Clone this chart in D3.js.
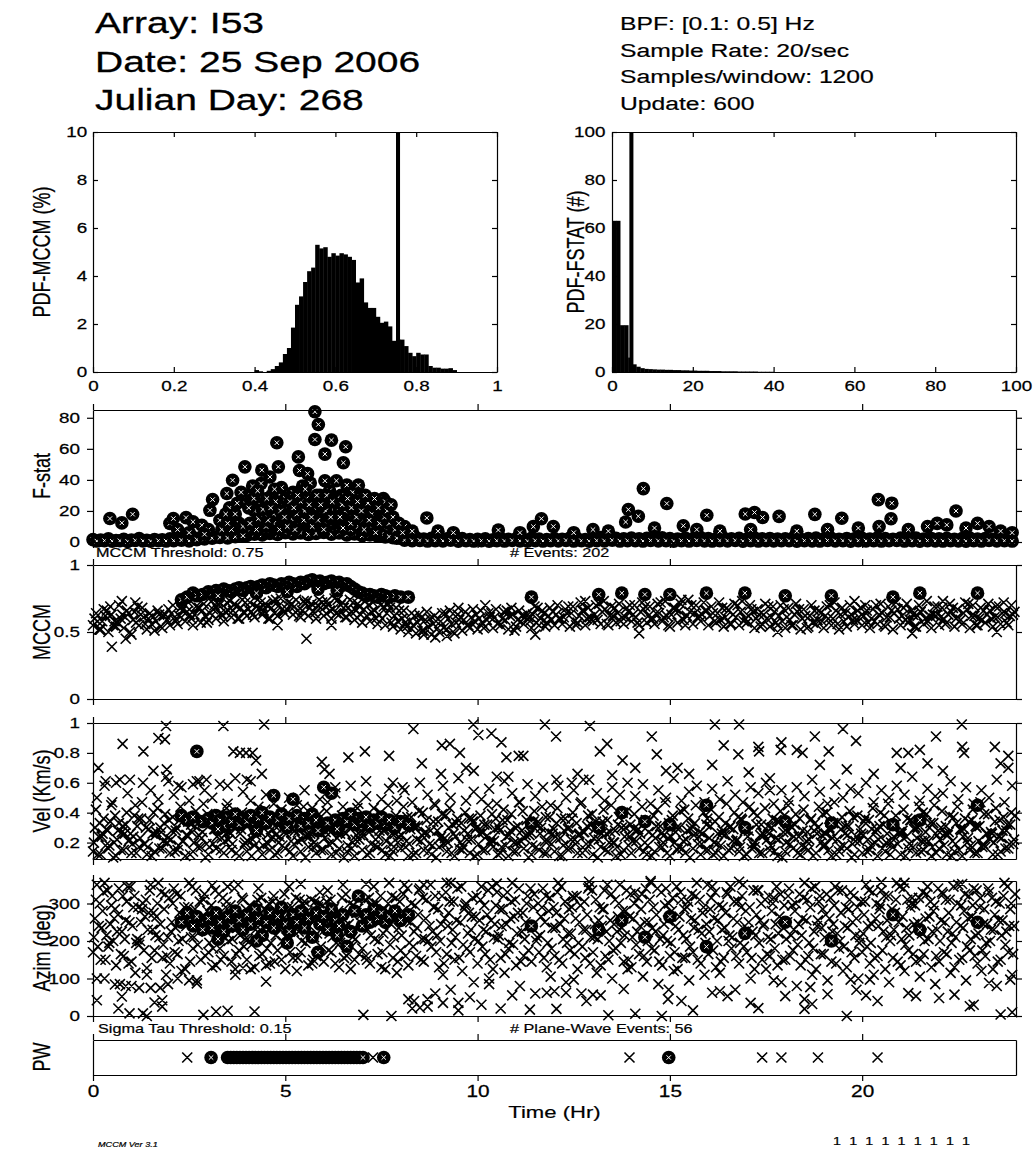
<!DOCTYPE html>
<html><head><meta charset="utf-8">
<script src="https://cdn.jsdelivr.net/npm/d3@7"></script>
<style>body{margin:0;background:#fff}svg{display:block}</style>
</head><body>
<svg id="chart" width="1034" height="1156"></svg>
<script>
// ---------------- DATA ----------------
const headerLeft = ["Array: I53", "Date: 25 Sep 2006", "Julian Day: 268"];
const headerRight = ["BPF: [0.1: 0.5] Hz", "Sample Rate: 20/sec", "Samples/window: 1200", "Update: 600"];

// MCCM histogram: bins of 0.01 starting at 0.40 (percent)
const mccmBinStart = 0.40, mccmBinWidth = 0.01;
const mccmPdf = [0.08,0.03,0.0,0.05,0.12,0.25,0.4,0.75,1.0,1.85,
  2.8,3.15,3.75,4.2,4.35,5.3,5.15,5.2,4.8,4.95,
  4.85,4.95,4.9,4.8,4.67,3.73,3.9,2.9,2.67,2.67,
  2.3,2.05,2.1,1.9,1.3,1.35,1.35,1.08,0.8,0.66,
  0.8,0.73,0.73,0.25,0.18,0.18,0.14,0.14,0.16,0.08];
const mccmThreshold = 0.75;
const mccmHistTicks = [0,0.2,0.4,0.6,0.8,1];
const mccmHistYTicks = [0,2,4,6,8,10];

// F-stat histogram: bins of width 1 from 0
const fPdf = [63,63,19.5,19.5,6,3.2,2.2,1.6,1.3,1.2,
  1.1,1.0,1.0,0.9,0.9,0.8,0.8,0.7,0.7,0.6,
  0.6,0.5,0.5,0.5,0.4,0.4,0.4,0.3,0.3,0.3,
  0.3,0.2,0.2,0.2,0.2,0.2,0.1,0.1,0.1,0.1];
const fThreshold = 4.3;
const fHistTicks = [0,20,40,60,80,100];

const timeTicks = [0,5,10,15,20];
const fTicks = [0,20,40,60,80];
const mccmTicks = [0,0.5,1];
const velTicks = [0.2,0.4,0.6,0.8,1];
const azTicks = [0,100,200,300];

const STEP = 0.2;
const fBase1 = [1.5,1.2,2.0,1.0,1.8,1.3,2.2,1.1,1.6,1.4,
  2.0,2.5,1.8,3.0,2.8,3.5,3.2,4.0,3.6,4.5,
  4.2,5.0,4.6,5.5,4.8,6.0,5.2,5.8,4.9,5.5,
  6.2,5.0,5.8,4.6,5.2,4.0,4.5,3.8,3.2,2.8,
  2.5,2.2,2.8,1.9,2.4,1.6,2.0,1.8,2.2,1.5,
  1.8,2.0,1.4,2.3,1.7,2.1,1.5,2.4,1.9,1.6,
  2.2,1.8,2.5,2.0,1.6,2.3,2.8,1.9,2.4,2.1,
  2.6,2.0,2.4,1.8,2.7,2.2,1.9,2.5,2.1,2.8,
  2.3,1.9,2.6,2.1,2.4,1.8,2.7,2.0,2.3,1.9,
  2.1,2.5,1.7,2.2,2.6,1.9,2.4,1.8,2.3,2.0,
  2.4,1.9,2.7,2.2,1.8,2.5,2.0,2.6,1.9,2.3,
  2.0,2.4,1.7,2.2,2.6,1.9,2.3,1.8,2.5,2.1];
const fBase2 = [.6,.9,.5,.8,.4,1.0,.7,.5,.9,.6,
  .8,1.2,.7,1.5,2.0,2.4,3.0,2.6,3.4,4.0,
  8.5,10,7.2,12,9.5,14,11,13.5,10.5,12.5,
  11,9.0,12,8.0,10,7.5,6.0,5.0,3.5,2.5,
  1.2,.8,1.0,.6,.9,.7,1.1,.5,.8,.6,
  .9,.5,.8,.6,1.0,.7,.5,.9,.6,.8,
  .7,1.0,.6,.8,.5,.9,.7,1.1,.6,.8,
  .9,.6,1.0,.7,.8,.5,.9,.6,1.0,.7,
  .6,.9,.7,1.0,.5,.8,.6,.9,.7,.8,
  .8,.5,.9,.7,.6,1.0,.7,.8,.5,.9,
  .7,.9,.6,.8,1.0,.6,.8,.5,.9,.7,
  .6,.8,.7,.5,.9,.6,1.0,.7,.8,.6];
const fHigh = [[0.44,15.1],[0.75,12.3],[1.03,17.9],[2.0,12],[2.09,15.1],[2.42,15.7],[2.6,13],[2.83,10.8],
  [3.04,20.4],[3.11,27.3],[3.3,14],[3.48,31.2],[3.55,22],[3.63,39.8],[3.7,18],[3.8,12],[3.95,48.4],[4.0,30],
  [4.1,27],[4.15,36],[4.2,20],[4.3,15],[4.37,37.7],[4.39,46.3],[4.45,25],[4.5,10],[4.6,41.9],[4.65,30],
  [4.7,18],[4.78,63.9],[4.82,48.4],[4.9,35],[4.95,12],[5.0,28],[5.08,23],[5.15,15],[5.2,32],[5.25,8],
  [5.34,54.8],[5.37,46],[5.45,36],[5.5,20],[5.55,28],[5.6,12],[5.65,38],[5.77,83.9],[5.77,66],[5.86,75.7],
  [5.9,30],[5.95,18],[6.03,56.6],[6.03,39.4],[6.1,25],[6.15,33],[6.2,65.6],[6.25,12],[6.33,39.4],[6.4,22],
  [6.45,30],[6.51,51],[6.57,61.3],[6.6,36.6],[6.65,18],[6.75,32],[6.8,24],[6.9,36.6],[6.95,29],[7.0,14],
  [7.1,20],[7.2,10],[7.3,23],[7.4,16],[7.55,28],[7.6,26],[7.7,12],[7.85,8],[8.1,10],[8.3,7],
  [3.6,8],[3.9,10],[4.05,22],[4.25,8],[4.35,24],[4.55,14],[4.75,26],[4.85,8],[5.05,10],[5.3,18],
  [5.4,26],[5.7,10],[5.75,22],[5.85,14],[6.0,8],[6.05,20],[6.3,14],[6.35,28],[6.5,9],[6.55,20],
  [6.7,12],[6.85,16],[7.05,8],[7.15,25],[7.25,18],[7.35,6],[7.45,12],[7.5,20],[4.45,18],[5.58,44],
  [3.45,18],[3.75,25],[3.85,32],[4.08,12],[4.18,28],[4.28,33],[4.42,21],[4.52,28],[4.62,22],[4.72,34],
  [4.88,20],[4.98,16],[5.12,26],[5.22,22],[5.32,30],[5.48,14],[5.52,34],[5.62,24],[5.68,16],[5.82,30],
  [5.92,24],[6.08,30],[6.18,16],[6.22,26],[6.42,16],[6.48,24],[6.62,28],[6.72,22],[6.88,26],[6.98,20],
  [7.08,30],[7.18,14],[7.32,28],[7.42,22],[7.58,16],[7.65,20],[7.75,24],[7.8,16],[7.95,12],[8.05,6],
  [3.35,8],[3.5,12],[3.0,8],[2.9,5],[2.5,6],[2.2,8],
  [8.68,15.5],[8.97,7],[9.37,6],[10.54,7.7],[11.1,6],[11.45,9.9],[11.66,15],[11.97,10],
  [12.5,6],[13.0,8],[13.4,7],[13.85,12.9],[13.92,20.9],[14.18,16.6],[14.31,34.4],[14.6,9],[14.92,24.8],
  [15.35,10.5],[15.7,8],[15.96,17.2],[16.3,7],[16.96,18],[17.1,8],[17.2,19],[17.41,15.8],[17.84,16.5],
  [18.3,7],[18.77,17.8],[19.1,8],[19.47,15.3],[19.9,9],[20.42,27.3],[20.44,10],[20.75,15],[20.77,25],
  [21.2,8],[21.7,10],[21.95,12],[22.2,11],[22.44,20],[22.7,9],[23.0,12],[23.3,10],[23.6,7],[23.9,6]];

const mccm1 = [.55,.52,.50,.54,.53,.48,.55,.52,.51,.53,
  .55,.56,.58,.55,.57,.59,.60,.58,.61,.60,
  .62,.61,.63,.60,.62,.64,.63,.61,.62,.60,
  .62,.60,.63,.61,.59,.57,.58,.56,.55,.54,
  .52,.50,.49,.51,.48,.50,.52,.49,.51,.53,
  .52,.54,.53,.55,.52,.54,.56,.53,.55,.57,
  .55,.56,.54,.57,.55,.58,.56,.55,.57,.56,
  .58,.55,.57,.56,.58,.54,.57,.55,.56,.58,
  .55,.57,.54,.56,.55,.57,.53,.56,.54,.55,
  .53,.55,.52,.54,.56,.53,.55,.52,.54,.56,
  .55,.53,.56,.54,.52,.55,.57,.54,.56,.53,
  .55,.57,.54,.56,.53,.55,.57,.54,.56,.55];
const mccm2 = [.60,.58,.62,.57,.61,.59,.63,.60,.58,.62,
  .64,.62,.65,.63,.66,.64,.67,.65,.66,.68,
  .67,.69,.66,.68,.70,.67,.69,.66,.68,.70,
  .69,.67,.70,.68,.66,.67,.65,.63,.64,.62,
  .60,.58,.57,.59,.56,.58,.60,.57,.59,.61,
  .60,.59,.61,.60,.62,.59,.61,.63,.60,.62,
  .63,.61,.64,.62,.60,.63,.65,.62,.64,.61,
  .63,.65,.62,.64,.61,.63,.66,.62,.64,.63,
  .62,.64,.61,.63,.65,.62,.60,.63,.61,.62,
  .61,.63,.60,.62,.59,.62,.60,.63,.61,.59,
  .62,.60,.63,.61,.64,.62,.59,.62,.60,.63,
  .61,.63,.60,.64,.62,.60,.63,.61,.64,.62];
const mccm3 = [.64,.67,.63,.70,.66,.65,.68,.64,.66,.63,
  .70,.68,.72,.69,.71,.73,.70,.72,.71,.74,
  .72,.74,.71,.73,.75,.72,.74,.73,.71,.74,
  .73,.75,.72,.74,.71,.73,.72,.70,.71,.68,
  .66,.64,.63,.65,.62,.64,.66,.63,.65,.67,
  .66,.64,.67,.65,.68,.66,.64,.69,.66,.68,
  .70,.67,.69,.72,.68,.70,.73,.69,.71,.68,
  .70,.72,.69,.71,.73,.68,.71,.74,.70,.72,
  .69,.72,.68,.71,.73,.70,.67,.71,.69,.70,
  .68,.71,.67,.70,.66,.69,.72,.68,.70,.66,
  .70,.67,.71,.69,.72,.68,.66,.70,.73,.69,
  .68,.71,.67,.72,.70,.68,.71,.69,.72,.70];
const mccm4 = [.58,.62,.55,.60,.64,.57,.61,.56,.63,.59,
  .61,.66,.63,.68,.62,.67,.64,.66,.69,.65,
  .65,.68,.70,.64,.67,.69,.66,.71,.65,.68,
  .70,.64,.68,.65,.69,.62,.66,.60,.68,.58,
  .57,.55,.60,.54,.58,.53,.56,.59,.55,.58,
  .57,.61,.56,.59,.63,.58,.61,.57,.64,.59,
  .60,.64,.58,.66,.61,.59,.67,.62,.58,.65,
  .61,.67,.59,.64,.62,.68,.60,.65,.61,.66,
  .64,.59,.66,.61,.58,.67,.63,.60,.65,.58,
  .59,.65,.62,.57,.64,.60,.66,.58,.63,.61,
  .66,.58,.64,.61,.67,.59,.63,.65,.58,.62,
  .60,.65,.58,.67,.62,.59,.66,.61,.64,.63];
const mccm5 = [.52,.66,.58,.63,.50,.69,.56,.61,.54,.67,
  .58,.71,.60,.68,.57,.70,.62,.73,.60,.72,
  .63,.72,.60,.74,.65,.71,.62,.73,.64,.72,
  .66,.74,.61,.72,.63,.70,.60,.69,.57,.66,
  .54,.62,.51,.60,.53,.64,.50,.61,.55,.63,
  .53,.64,.57,.66,.51,.62,.58,.68,.54,.65,
  .60,.69,.55,.66,.59,.71,.56,.68,.61,.70,
  .57,.69,.60,.72,.55,.67,.59,.70,.62,.66,
  .58,.68,.56,.70,.60,.65,.54,.69,.57,.67,
  .55,.67,.53,.66,.58,.70,.56,.64,.59,.68,
  .57,.70,.55,.66,.60,.71,.54,.67,.62,.69,
  .56,.68,.59,.71,.55,.66,.60,.69,.57,.65];
const mccmOut = [[0.49,.39],[0.45,.69],[0.75,.73],[0.85,.45],[5.55,.45],[1.1,.72],[8.9,.46],[9.2,.47],
  [8.6,.48],[3.3,.72],[2.3,.73],[9.5,.68],[10.2,.70],[12.8,.73],[15.3,.74],[19.8,.73],[22.1,.73],
  [17.8,.50],[21.3,.49],[14.2,.49],[11.5,.48],[23.5,.50],[6.2,.55],[4.8,.55]];

const vel1 = [.14,.12,.16,.11,.15,.13,.17,.12,.14,.16,
  .13,.15,.11,.14,.17,.12,.16,.13,.15,.11,
  .14,.18,.12,.15,.13,.16,.11,.14,.17,.13,
  .15,.12,.16,.14,.11,.15,.13,.17,.12,.14,
  .16,.11,.13,.15,.12,.17,.14,.11,.15,.13,
  .12,.15,.17,.13,.11,.14,.16,.12,.15,.13,
  .14,.11,.16,.13,.15,.12,.17,.14,.11,.15,
  .13,.16,.12,.14,.17,.11,.15,.13,.16,.12,
  .15,.13,.11,.16,.14,.12,.17,.13,.15,.11,
  .14,.16,.12,.15,.13,.17,.11,.14,.16,.12,
  .13,.15,.11,.14,.17,.12,.16,.13,.15,.11,
  .16,.12,.14,.11,.15,.13,.17,.12,.14,.16];
const vel2 = [.20,.24,.18,.22,.26,.19,.23,.17,.25,.21,
  .22,.18,.25,.20,.23,.17,.24,.21,.19,.26,
  .21,.25,.18,.23,.20,.26,.19,.22,.24,.18,
  .23,.20,.26,.18,.22,.25,.19,.24,.21,.17,
  .25,.19,.22,.26,.18,.23,.20,.24,.17,.22,
  .19,.24,.21,.17,.25,.20,.23,.18,.26,.21,
  .24,.18,.22,.25,.19,.23,.26,.20,.17,.24,
  .21,.26,.18,.23,.20,.24,.17,.22,.25,.19,
  .23,.19,.25,.21,.17,.24,.20,.26,.18,.22,
  .20,.24,.18,.22,.26,.19,.23,.17,.25,.21,
  .25,.18,.22,.20,.24,.26,.19,.23,.21,.17,
  .22,.25,.19,.24,.18,.21,.26,.20,.23,.19];
const vel3 = [.30,.26,.34,.28,.32,.24,.36,.29,.27,.33,
  .28,.35,.25,.31,.27,.34,.30,.26,.33,.29,
  .32,.27,.35,.29,.24,.31,.28,.34,.26,.30,
  .27,.33,.29,.36,.25,.30,.34,.28,.32,.26,
  .35,.29,.31,.27,.34,.24,.30,.33,.28,.36,
  .26,.32,.29,.35,.28,.31,.25,.34,.30,.27,
  .33,.28,.36,.26,.31,.29,.34,.27,.32,.30,
  .29,.34,.27,.31,.25,.35,.30,.28,.33,.26,
  .31,.26,.33,.29,.36,.28,.32,.25,.30,.34,
  .27,.32,.28,.35,.30,.26,.33,.29,.31,.24,
  .34,.29,.31,.26,.32,.28,.35,.30,.27,.33,
  .30,.27,.33,.29,.35,.31,.26,.34,.28,.32];
const vel4 = [.42,.36,.45,.33,.40,.38,.47,.35,.43,.39,
  .37,.44,.34,.41,.46,.36,.39,.43,.35,.40,
  .38,.35,.42,.37,.33,.40,.36,.44,.34,.39,
  .41,.36,.38,.34,.43,.37,.35,.40,.45,.38,
  .44,.37,.41,.35,.46,.39,.43,.36,.40,.34,
  .38,.45,.36,.42,.39,.47,.35,.41,.44,.37,
  .43,.36,.40,.46,.38,.34,.42,.45,.37,.41,
  .39,.44,.35,.42,.47,.38,.41,.36,.45,.40,
  .42,.37,.46,.40,.35,.44,.38,.43,.36,.41,
  .45,.39,.42,.36,.44,.40,.47,.37,.41,.38,
  .36,.43,.40,.46,.38,.42,.35,.44,.39,.45,
  .41,.38,.44,.36,.42,.47,.39,.43,.37,.40];
const vel5 = [.50,.58,.47,.62,.53,.45,.60,.55,.49,.64,
  .52,.57,.48,.61,.55,.50,.59,.46,.63,.54,
  .48,.44,.52,.46,.42,.50,.45,.55,.43,.49,
  .47,.53,.44,.58,.46,.51,.43,.49,.56,.48,
  .55,.47,.60,.52,.45,.58,.50,.63,.48,.54,
  .49,.56,.46,.61,.53,.47,.59,.51,.57,.45,
  .58,.50,.55,.47,.62,.53,.48,.57,.52,.60,
  .51,.59,.46,.55,.50,.63,.48,.54,.58,.47,
  .56,.49,.61,.52,.47,.57,.53,.60,.46,.55,
  .48,.57,.51,.62,.54,.46,.59,.50,.56,.53,
  .60,.47,.55,.50,.58,.52,.64,.48,.56,.51,
  .53,.61,.49,.57,.46,.55,.50,.62,.47,.58];
const vel6 = [.12,.18,.10,.15,.21,.13,.19,.11,.16,.20,
  .14,.21,.12,.17,.10,.19,.15,.22,.13,.18,
  .11,.16,.20,.12,.18,.14,.21,.10,.17,.15,
  .19,.13,.10,.16,.22,.12,.18,.15,.11,.20,
  .17,.12,.21,.14,.10,.19,.13,.16,.22,.11,
  .15,.20,.12,.18,.14,.21,.10,.17,.13,.19,
  .11,.16,.22,.13,.19,.10,.15,.20,.12,.18,
  .21,.14,.11,.17,.13,.20,.16,.10,.19,.15,
  .12,.18,.15,.21,.11,.16,.13,.22,.14,.10,
  .19,.13,.17,.11,.20,.15,.12,.18,.10,.21,
  .14,.20,.16,.12,.19,.11,.17,.14,.21,.13,
  .18,.11,.15,.20,.13,.17,.22,.12,.16,.19];
const vel7 = [.24,.29,.20,.27,.22,.31,.19,.26,.30,.23,
  .28,.21,.32,.25,.19,.29,.23,.27,.31,.20,
  .22,.27,.19,.25,.30,.21,.28,.24,.20,.26,
  .29,.23,.27,.20,.25,.31,.22,.28,.19,.24,
  .21,.30,.25,.19,.28,.23,.32,.20,.26,.29,
  .27,.22,.30,.24,.20,.28,.25,.31,.21,.26,
  .23,.29,.19,.27,.32,.22,.26,.20,.30,.24,
  .28,.20,.25,.31,.23,.27,.21,.29,.24,.32,
  .20,.26,.30,.22,.28,.19,.25,.31,.23,.27,
  .31,.24,.21,.28,.25,.30,.22,.26,.19,.29,
  .22,.27,.32,.20,.26,.24,.29,.21,.30,.25,
  .26,.21,.29,.23,.31,.19,.27,.24,.28,.22];
const vel8 = [.33,.28,.38,.31,.26,.36,.30,.40,.27,.35,
  .30,.37,.27,.34,.39,.29,.32,.26,.38,.33,
  .28,.32,.26,.30,.27,.29,.31,.26,.28,.30,
  .27,.29,.26,.31,.28,.27,.30,.29,.26,.35,
  .37,.31,.40,.28,.34,.38,.26,.33,.36,.30,
  .32,.39,.28,.35,.30,.41,.27,.34,.37,.29,
  .36,.30,.33,.27,.39,.31,.35,.28,.40,.32,
  .29,.35,.38,.26,.33,.30,.42,.31,.27,.36,
  .34,.28,.31,.37,.29,.40,.32,.26,.35,.38,
  .30,.36,.27,.33,.39,.28,.34,.31,.37,.26,
  .35,.29,.38,.32,.27,.36,.30,.40,.33,.28,
  .31,.37,.28,.34,.30,.39,.26,.35,.32,.38];
const velOut = [[0.14,.70],[0.33,.61],[0.6,.60],[0.77,.86],[0.96,.62],[1.31,.81],[1.57,.68],[1.7,.90],
  [1.87,.89],[1.9,.98],[1.92,.69],[1.96,.61],[2.22,.58],[2.6,.59],[2.77,.61],[2.95,.62],[3.39,.98],[3.5,.58],
  [3.65,.81],[3.82,.80],[3.98,.80],[4.15,.80],[4.24,.75],[4.39,.66],[4.45,.99],[4.0,.62],[4.1,.61],[5.95,.74],
  [6.02,.69],[6.15,.66],[6.64,.77],[6.3,.57],[7.07,.81],[7.1,.61],[7.7,.78],[7.8,.60],[8.05,.57],[8.33,.96],
  [8.55,.73],[9.07,.85],[9.28,.86],[9.05,.66],[9.54,.80],[9.7,.70],[9.9,.68],[9.89,.99],[10.02,.92],[10.36,.93],
  [10.62,.87],[10.75,.77],[11.07,.78],[10.5,.64],[10.8,.64],[11.19,.78],[11.75,.99],[12.04,.91],[12.92,.98],
  [13.18,.81],[13.37,.86],[13.77,.75],[12.05,.62],[12.6,.66],[12.75,.62],[12.45,.60],[14.53,.91],[14.66,.79],
  [16.17,.99],[16.8,.99],[16.4,.85],[16.78,.79],[17.3,.84],[17.32,.81],[17.9,.87],[17.88,.82],[18.3,.82],
  [18.45,.80],[18.77,.91],[19.13,.81],[19.5,.96],[19.84,.88],[20.9,.80],[21.2,.80],[21.5,.82],[21.92,.91],
  [22.59,.99],[22.6,.84],[22.65,.80],[23.45,.84],[23.8,.78],[23.6,.73],[23.8,.70],[17.05,.67],[17.6,.63],
  [17.6,.55],[15.2,.70],[15.5,.66],[18.9,.72],[19.6,.69],[20.3,.66],[21.0,.70],[21.7,.73],[22.1,.68],
  [14.1,.70],[13.5,.65],[14.9,.68],[16.1,.72]];

const az1 = [170,150,185,135,160,145,190,128,175,155,
  140,165,125,180,150,170,135,160,145,175,
  150,130,165,140,175,125,155,170,135,160,
  145,170,130,160,150,180,140,165,125,155,
  175,135,160,145,185,130,165,150,120,170,
  140,165,125,155,180,135,160,145,170,130,
  160,140,175,125,155,170,135,150,180,145,
  130,165,145,175,135,160,125,155,170,140,
  165,130,155,180,140,170,125,150,160,135,
  150,175,135,160,125,165,145,180,130,155,
  170,140,160,125,155,135,175,145,165,130,
  145,165,130,155,175,140,160,125,150,170];
const az2 = [210,235,195,225,205,240,200,230,215,190,
  225,200,240,210,230,195,220,235,205,215,
  205,230,215,195,235,210,225,200,240,220,
  230,210,195,225,205,240,215,200,230,210,
  215,195,235,205,225,200,240,210,190,230,
  200,225,210,240,195,220,205,235,215,195,
  235,205,220,195,230,210,240,200,225,215,
  210,240,200,225,215,195,230,205,235,220,
  225,200,235,210,195,230,215,240,205,220,
  205,230,215,195,240,210,225,200,235,215,
  220,195,240,210,230,205,215,235,200,225,
  200,225,210,235,205,220,195,230,215,240];
const az3 = [260,280,245,270,255,290,250,275,265,285,
  250,275,260,285,245,270,255,290,265,240,
  270,255,285,245,265,280,250,275,260,290,
  255,285,265,245,275,260,290,250,270,280,
  280,250,270,260,290,245,275,255,285,265,
  255,270,245,285,260,275,250,290,265,280,
  275,260,290,250,270,245,285,255,265,280,
  260,285,250,270,245,280,265,290,255,275,
  285,255,275,260,290,250,270,245,280,265,
  250,280,260,290,255,270,245,275,285,260,
  270,245,285,255,275,265,290,250,260,280,
  255,275,250,280,265,290,245,270,255,285];
const az4 = [310,330,295,340,305,320,285,335,300,325,
  300,320,290,335,310,295,325,305,340,315,
  295,310,285,305,300,290,315,295,310,300,
  305,290,315,300,285,310,295,320,300,315,
  325,300,335,310,290,320,305,340,295,315,
  310,335,295,320,305,340,300,325,290,315,
  330,305,320,295,340,310,285,325,300,335,
  300,325,310,340,295,315,330,305,320,290,
  315,295,330,305,320,290,335,310,300,325,
  320,300,315,340,305,325,295,335,310,290,
  305,330,295,320,310,340,300,315,325,295,
  330,310,300,325,295,315,340,305,320,300];
const az5 = [350,100,320,85,345,115,300,75,355,110,
  340,120,355,95,325,130,180,345,110,310,
  125,340,135,320,150,345,120,305,140,330,
  335,140,350,125,310,160,345,130,355,115,
  350,20,340,45,320,110,355,35,300,90,
  345,100,330,115,355,80,320,60,340,105,
  355,90,315,60,345,115,335,100,350,125,
  330,105,360,85,340,120,310,95,355,110,
  345,115,325,70,350,100,335,125,315,90,
  340,80,355,110,320,95,345,120,330,100,
  350,110,335,90,355,120,315,105,345,85,
  325,115,350,95,340,120,330,80,355,110];
const az6 = [185,150,200,165,140,195,175,155,210,160,
  170,205,145,190,160,180,150,200,165,185,
  190,160,180,145,200,170,155,195,150,185,
  175,195,155,185,165,150,205,170,190,145,
  160,185,150,200,170,140,195,155,180,205,
  185,150,205,165,190,145,175,200,155,180,
  150,195,165,185,140,205,160,175,195,150,
  190,160,180,145,200,170,155,185,150,195,
  175,145,200,160,185,155,195,165,180,150,
  160,190,150,180,165,200,140,185,170,195,
  185,155,175,200,145,190,165,150,205,160,
  170,195,150,185,160,175,200,145,190,165];
const az7 = [240,215,260,225,250,205,265,230,245,210,
  235,255,210,245,225,265,215,250,235,205,
  250,230,245,215,260,235,225,255,210,245,
  220,260,240,210,250,230,265,220,245,235,
  255,225,205,240,215,260,230,250,220,265,
  230,255,215,245,265,225,240,210,250,235,
  245,220,260,230,210,255,225,245,235,265,
  225,250,235,205,255,240,215,260,230,245,
  260,230,215,250,240,225,255,210,245,235,
  215,245,255,225,235,260,220,240,250,210,
  240,260,225,215,250,235,245,220,265,230,
  250,220,240,260,215,245,230,255,225,240];
const az8 = [300,335,285,320,345,290,310,275,330,315,
  325,290,345,305,280,335,315,295,350,285,
  285,315,300,275,325,290,310,280,305,295,
  310,280,325,295,270,315,300,285,320,305,
  340,295,315,350,285,330,305,345,275,320,
  295,345,285,330,310,275,340,300,320,290,
  345,285,320,305,335,290,350,310,280,325,
  315,340,290,330,300,345,285,325,310,350,
  330,290,345,305,280,335,300,320,345,295,
  295,325,310,345,285,315,335,290,320,305,
  335,300,320,285,345,310,295,330,305,340,
  310,345,295,320,335,285,315,300,345,325];
const azOut = [[0.1,42],[0.1,100],[0.66,20],[0.75,52],[0.57,84],[0.95,7],[1.3,7],[1.4,0],[1.6,36],[1.8,42],
  [1.8,25],[1.75,75],[1.95,85],[1.0,80],[1.2,75],[0.85,80],[1.4,110],[2.2,100],[2.7,87],[2.5,95],[2.87,3],
  [3.2,12],[3.5,14],[4.2,12],[4.5,92],[3.7,125],[3.9,128],[7.03,3],[7.76,0],[8.2,45],[8.35,40],[8.5,22],
  [8.7,25],[8.9,60],[9.1,35],[9.3,70],[9.5,15],[9.8,50],[10.1,30],[10.3,85],[10.6,20],[10.9,55],[11.36,17],
  [12.05,19],[12.83,40],[13.0,57],[13.2,55],[13.4,2],[14.1,6],[13.8,72],[11.8,62],[12.0,66],[12.3,62],
  [12.5,97],[14.79,0],[14.95,45],[14.97,70],[15.3,40],[15.6,15],[16.1,62],[16.3,66],[16.5,53],[17.1,35],
  [17.3,21],[17.7,95],[18.0,53],[18.5,45],[18.5,19],[18.7,32],[18.65,77],[19.1,58],[19.6,0],[19.7,97],
  [19.85,70],[20.1,55],[20.4,40],[20.2,97],[21.2,61],[21.4,53],[22.0,48],[22.4,57],[22.8,26],[22.9,30],
  [23.3,88],[23.6,4],[23.9,10],[23.85,97],[5.4,352],[7.1,352],[0.3,355],[1.5,350],[3.1,348],[12.9,358],
  [14.5,356],[16.8,358],[20.5,357],[21.1,355],[22.6,352],[9.2,355],[10.5,353],[8.6,350]];

// detections (MCCM above threshold): time, MCCM, velocity, azimuth
const detT = [2.30,2.45,2.60,2.70,2.85,3.00,3.10,3.20,3.30,3.40,3.50,3.60,3.70,3.80,3.90,4.00,4.10,4.20,4.30,4.40,
  4.50,4.60,4.70,4.80,4.90,5.00,5.10,5.20,5.30,5.40,5.50,5.60,5.70,5.80,5.90,6.00,6.10,6.20,6.30,6.40,
  6.50,6.60,6.70,6.80,6.90,7.00,7.10,7.20,7.30,7.40,7.50,7.60,7.70,7.85,8.00,8.20,
  3.25,4.25,5.05,5.85,6.35,
  11.40,13.15,13.75,14.35,15.00,15.95,16.95,18.00,19.20,20.80,21.50,23.00];
const detMccm = [.74,.76,.79,.77,.78,.80,.79,.81,.80,.82,.81,.80,.82,.83,.81,.83,.84,.82,.84,.85,
  .83,.86,.85,.84,.86,.85,.87,.86,.84,.87,.86,.88,.89,.87,.88,.86,.87,.88,.86,.87,
  .85,.86,.84,.82,.80,.79,.77,.78,.77,.76,.78,.77,.76,.77,.76,.76,
  .77,.79,.80,.82,.81,
  .76,.78,.79,.78,.78,.79,.79,.77,.77,.76,.79,.79];
const detVel = [.38,.35,.37,.81,.34,.36,.33,.38,.35,.31,.37,.34,.39,.32,.36,.34,.38,.31,.36,.40,
  .33,.37,.515,.35,.39,.32,.36,.49,.38,.31,.36,.33,.39,.35,.30,.57,.33,.53,.35,.31,
  .36,.34,.39,.32,.36,.34,.37,.31,.35,.33,.37,.32,.35,.30,.34,.32,
  .29,.28,.30,.28,.29,
  .33,.30,.40,.34,.32,.45,.30,.34,.33,.32,.35,.45];
const detAz = [250,275,240,265,230,260,235,275,250,225,265,240,280,255,230,270,245,285,260,215,
  250,275,235,265,290,245,225,270,250,280,235,260,210,275,245,265,230,285,255,240,
  270,186,225,280,320,240,270,250,285,260,275,250,265,280,255,270,
  205,200,195,170,215,
  240,230,255,210,265,185,220,250,200,270,230,250];

// plane-wave detections
const pwCircleT = [3.07,3.50,3.58,3.66,3.74,3.82,3.90,3.98,4.06,4.14,4.22,4.30,4.38,4.46,4.54,4.62,4.70,4.78,
  4.86,4.94,5.02,5.10,5.18,5.26,5.34,5.42,5.50,5.58,5.66,5.74,5.82,5.90,5.98,6.06,6.14,6.22,6.30,6.38,
  6.46,6.54,6.62,6.70,6.78,6.86,6.94,7.02,7.56,14.97];
const pwCrossT = [2.45,7.28,13.95,17.40,17.90,18.85,20.40];

const thresholdTexts = ["MCCM Threshold: 0.75", "# Events: 202", "Sigma Tau Threshold: 0.15", "# Plane-Wave Events: 56"];
const footerNums = [1,1,1,1,1,1,1,1,1];

// ---------------- DRAWING ----------------
const svg = d3.select('#chart');
const FONT = '"Liberation Sans", Arial, Helvetica, sans-serif';
const SX = 1.3;

function txt(x, y, s, size, anchor, opt) {
  opt = opt || {};
  const t = svg.append('text')
    .attr('transform', opt.rot ? `translate(${x},${y}) rotate(-90) scale(1,${SX})` : `translate(${x},${y}) scale(${SX},1)`)
    .attr('font-size', size).attr('text-anchor', anchor || 'start')
    .attr('font-family', FONT).attr('fill', '#000')
    .attr('stroke', '#000').attr('stroke-width', size > 20 ? 0.3 : 0.2).text(s);
  if (opt.italic) t.attr('font-style', 'italic');
  return t;
}
function styleAxis(g, size) {
  g.attr('font-family', FONT).attr('font-size', size);
  g.selectAll('path.domain').attr('stroke', '#000').attr('stroke-width', 1.2);
  g.selectAll('.tick line').attr('stroke', '#000').attr('stroke-width', 1.2);
  g.selectAll('.tick text').attr('fill', '#000').attr('stroke', '#000').attr('stroke-width', 0.25)
    .attr('transform', `scale(${SX},1)`);
}
function frame(xs, ys, o) {
  const [x0, x1] = xs.range(); const [yb, yt] = ys.range();
  const ts = o.inward ? -o.len : o.len;
  const gB = svg.append('g').attr('transform', `translate(0,${yb})`)
    .call(d3.axisBottom(xs).tickValues(o.xTicks).tickSize(ts).tickSizeOuter(0).tickPadding(o.padB || 3)
      .tickFormat(o.xFmt || (() => '')));
  const gT = svg.append('g').attr('transform', `translate(0,${yt})`)
    .call(d3.axisTop(xs).tickValues(o.xTicks).tickSize(ts).tickSizeOuter(0).tickFormat(() => ''));
  const gL = svg.append('g').attr('transform', `translate(${x0},0)`)
    .call(d3.axisLeft(ys).tickValues(o.yTicks).tickSize(ts).tickSizeOuter(0).tickPadding(o.padL || 3)
      .tickFormat(o.yFmt || (() => '')));
  const gR = svg.append('g').attr('transform', `translate(${x1},0)`)
    .call(d3.axisRight(ys).tickValues(o.yTicks).tickSize(ts).tickSizeOuter(0).tickFormat(() => ''));
  [gB, gT, gL, gR].forEach(g => styleAxis(g, o.font || 14.5));
}
const fmt = d => String(+d.toFixed(2));

const XM = 5;
function drawX(g, pts, xs, ys) {
  g.append('path')
    .attr('d', pts.map(d => { const x = xs(d[0]), y = ys(d[1]);
      return `M${x-XM},${y-XM}L${x+XM},${y+XM}M${x-XM},${y+XM}L${x+XM},${y-XM}`; }).join(''))
    .attr('fill', 'none').attr('stroke', '#000').attr('stroke-width', 1.6);
}
function drawO(g, pts, xs, ys) {
  const gg = g.selectAll(null).data(pts).join('g')
    .attr('transform', d => `translate(${xs(d[0])},${ys(d[1])})`);
  gg.append('circle').attr('r', 6.8).attr('fill', '#000');
  gg.append('path').attr('d', 'M-2.2,-2.2L2.2,2.2M-2.2,2.2L2.2,-2.2').attr('stroke', '#fff').attr('stroke-width', 1);
}
function layers(arrs) {
  const out = [];
  arrs.forEach((arr, j) => arr.forEach((v, i) => out.push([STEP * i + STEP * j / arrs.length, v])));
  return out;
}

// header
headerLeft.forEach((s, i) => txt(95, [33, 72, 110][i], s, 30));
headerRight.forEach((s, i) => txt(620, 30 + i * 26.7, s, 19));

// ---- MCCM histogram
const xH1 = d3.scaleLinear().domain([0, 1]).range([93, 497]);
const yH1 = d3.scaleLinear().domain([0, 10]).range([372, 132]);
const gh1 = svg.append('g');
gh1.selectAll('rect').data(mccmPdf).join('rect')
  .attr('x', (d, i) => xH1(mccmBinStart + i * mccmBinWidth))
  .attr('width', xH1(mccmBinWidth) - xH1(0) + 0.4)
  .attr('y', d => yH1(d)).attr('height', d => yH1(0) - yH1(d)).attr('fill', '#000');
gh1.append('rect').attr('x', xH1(mccmThreshold)).attr('width', xH1(mccmBinWidth) - xH1(0))
  .attr('y', yH1(10)).attr('height', yH1(0) - yH1(10)).attr('fill', '#000');
frame(xH1, yH1, {inward: true, len: 5, xTicks: mccmHistTicks, yTicks: mccmHistYTicks, xFmt: fmt, yFmt: fmt, padB: 9, padL: 4.5});
txt(50, 252, 'PDF-MCCM (%)', 18, 'middle', {rot: true});

// ---- F-stat histogram
const xH2 = d3.scaleLinear().domain([0, 100]).range([612, 1016]);
const yH2 = d3.scaleLinear().domain([0, 100]).range([372, 132]);
const gh2 = svg.append('g');
gh2.selectAll('rect').data(fPdf).join('rect')
  .attr('x', (d, i) => xH2(i)).attr('width', xH2(1) - xH2(0) + 0.4)
  .attr('y', d => yH2(d)).attr('height', d => yH2(0) - yH2(d)).attr('fill', '#000');
gh2.append('rect').attr('x', xH2(fThreshold)).attr('width', xH2(1) - xH2(0))
  .attr('y', yH2(100)).attr('height', yH2(0) - yH2(100)).attr('fill', '#000');
frame(xH2, yH2, {inward: true, len: 5, xTicks: fHistTicks, yTicks: fHistTicks, xFmt: fmt, yFmt: fmt, padB: 9, padL: 5});
txt(584, 252, 'PDF-FSTAT (#)', 18, 'middle', {rot: true});

// ---- time panels
const xT = d3.scaleLinear().domain([0, 24]).range([93, 1016]);

// F-stat
const yF = d3.scaleLinear().domain([0, 85]).range([542, 410]);
const gF = svg.append('g');
drawO(gF, layers([fBase1, fBase2]), xT, yF);
drawO(gF, fHigh, xT, yF);
frame(xT, yF, {len: 6, xTicks: timeTicks, yTicks: fTicks, yFmt: fmt, padL: 4});
txt(50, 476, 'F-stat', 18, 'middle', {rot: true});
txt(96, 557, thresholdTexts[0], 12.5);
txt(510, 557, thresholdTexts[1], 12.5);

// MCCM
const yM = d3.scaleLinear().domain([0, 1]).range([699, 565]);
const gM = svg.append('g');
drawX(gM, layers([mccm1, mccm2, mccm3, mccm4, mccm5]), xT, yM);
drawX(gM, mccmOut, xT, yM);
drawO(gM, detT.map((t, i) => [t, detMccm[i]]), xT, yM);
frame(xT, yM, {len: 6, xTicks: timeTicks, yTicks: mccmTicks, yFmt: fmt, padL: 4});
txt(50, 632, 'MCCM', 18, 'middle', {rot: true});

// Velocity
const yV = d3.scaleLinear().domain([0.09, 1]).range([859, 723]);
const gV = svg.append('g');
drawX(gV, layers([vel1, vel2, vel3, vel4, vel5, vel6, vel7, vel8]), xT, yV);
drawX(gV, velOut, xT, yV);
drawO(gV, detT.map((t, i) => [t, detVel[i]]), xT, yV);
frame(xT, yV, {len: 6, xTicks: timeTicks, yTicks: velTicks, yFmt: fmt, padL: 4});
txt(50, 791, 'Vel (Km/s)', 18, 'middle', {rot: true});

// Azimuth
const yA = d3.scaleLinear().domain([0, 360]).range([1016, 881]);
const gA = svg.append('g');
drawX(gA, layers([az1, az2, az3, az4, az5, az6, az7, az8]), xT, yA);
drawX(gA, azOut, xT, yA);
drawO(gA, detT.map((t, i) => [t, detAz[i]]), xT, yA);
frame(xT, yA, {len: 6, xTicks: timeTicks, yTicks: azTicks, yFmt: fmt, padL: 4});
txt(50, 948, 'Azim (deg)', 18, 'middle', {rot: true});
txt(98, 1033, thresholdTexts[2], 12.5);
txt(510, 1033, thresholdTexts[3], 12.5);

// PW
const yP = d3.scaleLinear().domain([0, 1]).range([1075, 1040]);
const gP = svg.append('g');
drawX(gP, pwCrossT.map(t => [t, 0.5]), xT, yP);
drawO(gP, pwCircleT.map(t => [t, 0.5]), xT, yP);
frame(xT, yP, {len: 6, xTicks: timeTicks, yTicks: [], xFmt: fmt, padB: 5, font: 16});
txt(50, 1057, 'PW', 18, 'middle', {rot: true});
txt(554.5, 1118, 'Time (Hr)', 17, 'middle');

// footer
txt(98, 1147, 'MCCM Ver 3.1', 7, 'start', {italic: true});
const xFoot = d3.scalePoint().domain(d3.range(footerNums.length)).range([837, 966]);
footerNums.forEach((n, i) => txt(xFoot(i), 1145, String(n), 11, 'middle'));
</script>
</body></html>
